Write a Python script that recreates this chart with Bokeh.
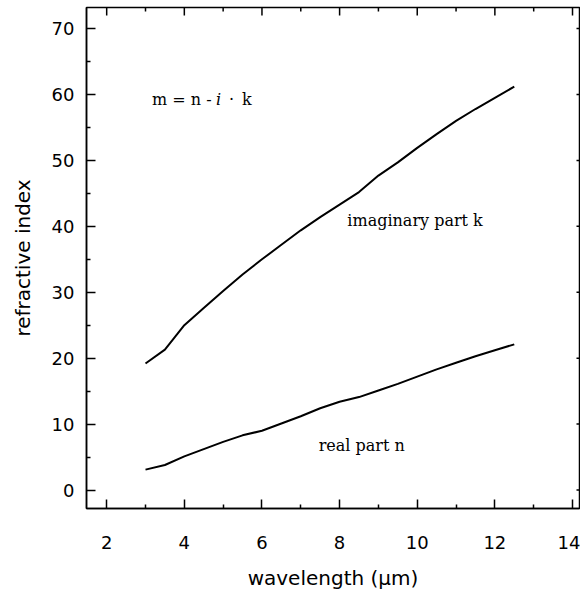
import math
from bokeh.plotting import figure
from bokeh.models import FixedTicker, Label, Range1d
from bokeh.embed import file_html
from bokeh.resources import INLINE

# wavelength (µm)
wavelength = [3.0, 3.5, 4.0, 4.5, 5.0, 5.5, 6.0, 6.5, 7.0, 7.5,
              8.0, 8.5, 9.0, 9.5, 10.0, 10.5, 11.0, 11.5, 12.0, 12.5]
# imaginary part k
k_values = [19.2, 21.3, 25.0, 27.6, 30.2, 32.7, 35.0, 37.2, 39.4, 41.4,
            43.3, 45.2, 47.7, 49.7, 51.9, 54.0, 56.0, 57.8, 59.5, 61.2]
# real part n
n_values = [3.1, 3.8, 5.1, 6.2, 7.3, 8.3, 9.0, 10.1, 11.2, 12.4,
            13.4, 14.1, 15.1, 16.1, 17.2, 18.3, 19.3, 20.3, 21.2, 22.1]

x_major = [2, 4, 6, 8, 10, 12, 14]
x_minor = [3, 5, 7, 9, 11, 13]
y_major = [0, 10, 20, 30, 40, 50, 60, 70]
y_minor = [5, 15, 25, 35, 45, 55, 65]

X0, X1, Y0, Y1 = 1.48, 14.18, -2.8, 73.2

p = figure(width=580, height=592, output_backend="svg", toolbar_location=None,
           x_range=Range1d(X0, X1), y_range=Range1d(Y0, Y1),
           min_border_left=86, min_border_right=1, min_border_top=7,
           min_border_bottom=83)
p.grid.visible = False
p.outline_line_color = "black"
p.outline_line_width = 1.5
p.background_fill_color = "white"
p.border_fill_color = "white"

p.xaxis.ticker = FixedTicker(ticks=x_major, minor_ticks=x_minor)
p.yaxis.ticker = FixedTicker(ticks=y_major, minor_ticks=y_minor)
p.xaxis.axis_label = "wavelength (µm)"
p.yaxis.axis_label = "refractive index"

sans = "DejaVu Sans"
for ax in list(p.xaxis) + list(p.yaxis):
    ax.axis_line_width = 1.5
    ax.axis_line_color = "black"
    ax.major_tick_in = 9
    ax.major_tick_out = 0
    ax.minor_tick_in = 4
    ax.minor_tick_out = 0
    ax.major_tick_line_width = 1.5
    ax.minor_tick_line_width = 1.5
    ax.major_tick_line_color = "black"
    ax.minor_tick_line_color = "black"
    ax.major_label_text_font = sans
    ax.major_label_text_font_size = "18px"
    ax.major_label_text_color = "black"
    ax.axis_label_text_font = sans
    ax.axis_label_text_font_size = "20px"
    ax.axis_label_text_font_style = "normal"
    ax.axis_label_text_color = "black"

p.xaxis.major_label_standoff = 27
p.xaxis.axis_label_standoff = 14
p.yaxis.major_label_standoff = 12
p.yaxis.axis_label_standoff = 14

# top and right frame ticks (markers clipped by the frame, so only the inner half shows)
p.scatter(x_major, [Y1] * len(x_major), marker="dash", size=16, angle=math.pi / 2,
          line_color="black", line_width=1.5)
p.scatter(x_minor, [Y1] * len(x_minor), marker="dash", size=8, angle=math.pi / 2,
          line_color="black", line_width=1.5)
p.scatter([X1] * len(y_major), y_major, marker="dash", size=6,
          line_color="black", line_width=1.5)

p.line(wavelength, k_values, line_color="black", line_width=2)
p.line(wavelength, n_values, line_color="black", line_width=2)

serif = "DejaVu Serif"
def lab(x, y, text, xoff=0, style="normal"):
    p.add_layout(Label(x=x, y=y, text=text, x_offset=xoff, text_font=serif,
                       text_font_size="16px", text_font_style=style,
                       text_color="black", text_baseline="alphabetic",
                       text_align="left"))

lab(8.2, 40.9, "imaginary part k")
lab(7.46, 6.8, "real part n")
lab(3.17, 59.3, "m = n -")
lab(3.17, 59.3, "i", xoff=64, style="italic")
lab(3.17, 59.3, "·", xoff=77)
lab(3.17, 59.3, "k", xoff=90)

open("out.html", "w").write(file_html(p, INLINE))
